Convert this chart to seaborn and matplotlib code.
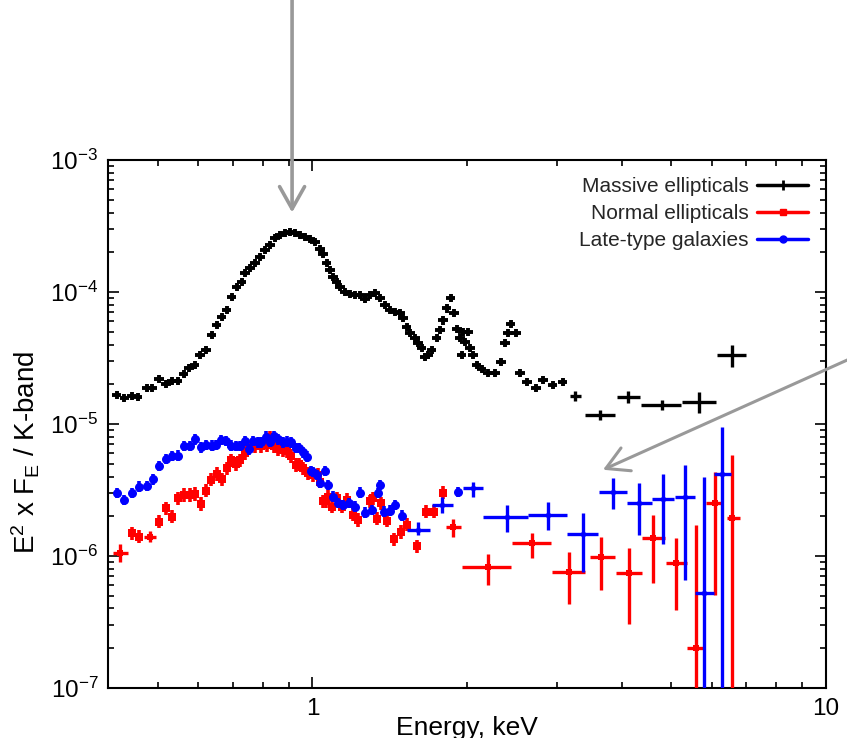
import matplotlib
matplotlib.use("Agg")
import numpy as np
import pandas as pd
import matplotlib.pyplot as plt
import seaborn as sns
from matplotlib.lines import Line2D
from matplotlib.ticker import LogLocator, NullFormatter, LogFormatterSciNotation

# ---------------- data (energy in keV, E^2 F_E / K-band) ----------------
massive_E = [0.416, 0.430, 0.445, 0.457, 0.476, 0.487, 0.503, 0.519, 0.532, 0.547,
             0.562, 0.575, 0.590, 0.604, 0.621, 0.637, 0.651, 0.666, 0.681, 0.696,
             0.712, 0.728, 0.739, 0.756, 0.773, 0.791, 0.809, 0.827, 0.846, 0.865,
             0.884, 0.905, 0.925, 0.946, 0.967, 0.989, 1.012, 1.035, 1.049, 1.066,
             1.082, 1.097, 1.115, 1.132, 1.157, 1.184, 1.210, 1.238, 1.266, 1.295,
             1.324, 1.354, 1.385, 1.416, 1.448, 1.481, 1.501, 1.526, 1.549, 1.584,
             1.606, 1.632, 1.657, 1.679, 1.707, 1.746, 1.772, 1.796, 1.826, 1.859,
             1.887, 1.912, 1.938, 1.953, 1.961, 1.982, 2.009, 2.027, 2.054, 2.089,
             2.136, 2.197, 2.267, 2.329, 2.371, 2.403, 2.433, 2.491, 2.536, 2.617,
             2.725, 2.812, 2.937, 3.071]
massive_F = [1.66e-5, 1.57e-5, 1.63e-5, 1.60e-5, 1.87e-5, 1.87e-5, 2.19e-5, 2.01e-5, 2.12e-5, 2.12e-5,
             2.39e-5, 2.66e-5, 2.80e-5, 3.33e-5, 3.64e-5, 4.72e-5, 5.62e-5, 6.47e-5, 7.31e-5, 9.17e-5,
             1.09e-4, 1.19e-4, 1.39e-4, 1.52e-4, 1.66e-4, 1.84e-4, 2.08e-4, 2.27e-4, 2.57e-4, 2.70e-4,
             2.80e-4, 2.85e-4, 2.80e-4, 2.70e-4, 2.61e-4, 2.52e-4, 2.39e-4, 2.10e-4, 1.94e-4, 1.66e-4,
             1.47e-4, 1.30e-4, 1.19e-4, 1.09e-4, 1.00e-4, 9.66e-5, 9.49e-5, 9.49e-5, 8.90e-5, 9.50e-5,
             9.80e-5, 9.00e-5, 8.00e-5, 7.30e-5, 7.05e-5, 6.93e-5, 6.35e-5, 5.43e-5, 4.89e-5, 4.48e-5,
             4.11e-5, 3.77e-5, 3.22e-5, 3.33e-5, 3.64e-5, 4.48e-5, 5.15e-5, 6.10e-5, 7.50e-5, 9.00e-5,
             6.90e-5, 5.25e-5, 4.48e-5, 3.33e-5, 4.97e-5, 4.18e-5, 4.97e-5, 3.77e-5, 3.33e-5, 2.80e-5,
             2.61e-5, 2.43e-5, 2.43e-5, 2.95e-5, 4.11e-5, 4.89e-5, 5.72e-5, 4.89e-5, 2.43e-5, 2.08e-5,
             1.87e-5, 2.16e-5, 1.97e-5, 2.08e-5]
# wide high-energy bins
massive_bin_E = [3.245, 3.631, 4.117, 4.795, 5.657, 6.561]
massive_bin_Elo = [3.17, 3.394, 3.919, 4.364, 5.245, 6.136]
massive_bin_Ehi = [3.33, 3.884, 4.345, 5.222, 6.108, 6.986]
massive_bin_F = [1.63e-5, 1.17e-5, 1.60e-5, 1.39e-5, 1.47e-5, 3.33e-5]
massive_bin_Flo = [1.50e-5, 1.08e-5, 1.43e-5, 1.27e-5, 1.21e-5, 2.70e-5]
massive_bin_Fhi = [1.77e-5, 1.27e-5, 1.79e-5, 1.52e-5, 1.75e-5, 3.97e-5]

normal_E = [0.445, 0.460, 0.503, 0.518, 0.534, 0.548, 0.563, 0.578, 0.590, 0.607,
            0.621, 0.635, 0.651, 0.666, 0.681, 0.694, 0.710, 0.723, 0.739, 0.753,
            0.773, 0.794, 0.815, 0.827, 0.842, 0.858, 0.875, 0.891, 0.908, 0.928,
            0.943, 0.960, 0.982, 1.004, 1.027, 1.035, 1.050, 1.063, 1.072, 1.090,
            1.115, 1.140, 1.169, 1.201, 1.228, 1.295, 1.314, 1.334, 1.358, 1.399,
            1.442, 1.485, 1.530, 1.596, 1.664, 1.725, 1.793]
normal_F = [1.49e-6, 1.40e-6, 1.82e-6, 2.30e-6, 1.99e-6, 2.74e-6, 2.90e-6, 2.90e-6, 2.95e-6, 2.48e-6,
            3.13e-6, 3.77e-6, 4.18e-6, 3.82e-6, 4.62e-6, 5.30e-6, 4.98e-6, 5.30e-6, 5.99e-6, 6.66e-6,
            6.81e-6, 6.81e-6, 6.94e-6, 7.94e-6, 6.81e-6, 6.43e-6, 6.36e-6, 6.24e-6, 5.72e-6, 4.89e-6,
            4.95e-6, 4.62e-6, 4.23e-6, 4.11e-6, 4.11e-6, 3.65e-6, 2.59e-6, 2.59e-6, 2.80e-6, 2.37e-6,
            2.74e-6, 2.37e-6, 2.66e-6, 2.05e-6, 1.87e-6, 2.59e-6, 2.74e-6, 1.92e-6, 2.51e-6, 1.85e-6,
            1.34e-6, 1.52e-6, 1.72e-6, 1.18e-6, 2.16e-6, 2.16e-6, 3.02e-6]
normal_bin_E = [0.422, 0.483, 1.881, 2.194, 2.673, 3.164, 3.647, 4.135, 4.610, 5.105, 5.583, 6.081, 6.571]
normal_bin_Elo = [0.4095, 0.471, 1.820, 1.953, 2.443, 2.924, 3.471, 3.901, 4.389, 4.881, 5.356, 5.840, 6.425]
normal_bin_Ehi = [0.437, 0.495, 1.944, 2.433, 2.911, 3.394, 3.884, 4.377, 4.859, 5.356, 5.769, 6.294, 6.802]
normal_bin_F = [1.06e-6, 1.40e-6, 1.65e-6, 8.30e-7, 1.25e-6, 7.60e-7, 9.89e-7, 7.40e-7, 1.36e-6, 8.81e-7, 2.00e-7, 2.51e-6, 1.95e-6]
normal_bin_Flo = [9.0e-7, 1.28e-6, 1.39e-6, 6.03e-7, 9.6e-7, 4.3e-7, 5.52e-7, 3.05e-7, 6.26e-7, 3.89e-7, 1e-8, 5.07e-7, 1e-8]
normal_bin_Fhi = [1.24e-6, 1.55e-6, 1.92e-6, 1.04e-6, 1.50e-6, 1.08e-6, 1.40e-6, 1.15e-6, 2.05e-6, 1.36e-6, 1.72e-6, 4.36e-6, 5.82e-6]

late_E = [0.416, 0.430, 0.445, 0.460, 0.476, 0.490, 0.503, 0.518, 0.534, 0.547,
          0.562, 0.578, 0.590, 0.607, 0.622, 0.637, 0.649, 0.665, 0.678, 0.693,
          0.710, 0.723, 0.739, 0.753, 0.767, 0.782, 0.796, 0.812, 0.827, 0.842,
          0.858, 0.876, 0.894, 0.909, 0.928, 0.943, 0.960, 0.975, 0.995, 1.004,
          1.020, 1.035, 1.058, 1.072, 1.097, 1.122, 1.147, 1.178, 1.210, 1.238,
          1.266, 1.305, 1.344, 1.354, 1.379, 1.416, 1.448, 1.492, 1.918]
late_F = [3.00e-6, 2.66e-6, 3.00e-6, 3.35e-6, 3.40e-6, 3.80e-6, 4.81e-6, 5.43e-6, 5.72e-6, 5.75e-6,
          6.81e-6, 6.81e-6, 7.63e-6, 6.66e-6, 6.94e-6, 6.87e-6, 6.94e-6, 7.57e-6, 7.44e-6, 6.87e-6,
          6.81e-6, 6.81e-6, 7.44e-6, 6.43e-6, 7.44e-6, 7.27e-6, 7.27e-6, 8.00e-6, 7.35e-6, 8.11e-6,
          7.63e-6, 7.27e-6, 7.35e-6, 7.27e-6, 6.56e-6, 6.56e-6, 6.10e-6, 5.65e-6, 4.40e-6, 4.34e-6,
          4.11e-6, 3.57e-6, 4.40e-6, 3.45e-6, 2.82e-6, 2.52e-6, 2.43e-6, 2.52e-6, 2.37e-6, 3.02e-6,
          2.13e-6, 2.23e-6, 3.00e-6, 3.45e-6, 2.17e-6, 2.21e-6, 2.43e-6, 2.02e-6, 3.05e-6]
late_bin_E = [1.608, 1.785, 2.057, 2.389, 2.880, 3.369, 3.843, 4.331, 4.822, 5.316, 5.795, 6.283]
late_bin_Elo = [1.526, 1.707, 1.967, 2.151, 2.633, 3.127, 3.619, 4.104, 4.590, 5.082, 5.558, 6.053]
late_bin_Ehi = [1.694, 1.876, 2.151, 2.633, 3.127, 3.603, 4.093, 4.578, 5.066, 5.558, 6.053, 6.524]
late_bin_F = [1.57e-6, 2.43e-6, 3.27e-6, 1.99e-6, 2.05e-6, 1.47e-6, 3.05e-6, 2.54e-6, 2.70e-6, 2.81e-6, 5.21e-7, 4.18e-6]
late_bin_Flo = [1.45e-6, 2.10e-6, 2.80e-6, 1.53e-6, 1.57e-6, 7.6e-7, 2.26e-6, 1.44e-6, 1.23e-6, 6.58e-7, 1e-8, 1e-8]
late_bin_Fhi = [1.80e-6, 2.80e-6, 3.65e-6, 2.43e-6, 2.55e-6, 2.10e-6, 3.88e-6, 3.59e-6, 4.21e-6, 4.89e-6, 3.95e-6, 9.54e-6]

series_labels = ["Massive ellipticals", "Normal ellipticals", "Late-type galaxies"]

# annotation arrow targets (data coords)
arrow1_tip = (0.913, 4.0e-4)
arrow1_tail = (0.913, 1.7e-2)
arrow2_tip = (3.68, 4.5e-6)
arrow2_tail = (11.3, 3.2e-5)

# ---------------- style ----------------
sns.set_theme(style="ticks")
plt.rcParams["font.family"] = ["Liberation Sans", "DejaVu Sans"]
plt.rcParams["mathtext.fontset"] = "custom"
plt.rcParams["mathtext.rm"] = "Liberation Sans"
plt.rcParams["mathtext.it"] = "Liberation Sans:italic"
plt.rcParams["mathtext.bf"] = "Liberation Sans:bold"

fig = plt.figure(figsize=(8.47, 7.38), dpi=100)
ax = fig.add_axes([0.1275, 0.0678, 0.8477, 0.7154])
ax.set_xscale("log")
ax.set_yscale("log")
ax.set_xlim(0.4, 10)
ax.set_ylim(1e-7, 1e-3)


def draw_fine(E, F, color, marker, s, xdex, ydex, lw, z):
    E = np.asarray(E, float)
    F = np.asarray(F, float)
    xerr = [E - E / 10 ** xdex, E * 10 ** xdex - E]
    yerr = [F - F / 10 ** ydex, F * 10 ** ydex - F]
    ax.errorbar(E, F, xerr=xerr, yerr=yerr, fmt="none", ecolor=color,
                elinewidth=lw, capsize=0, zorder=z)
    df = pd.DataFrame({"E": E, "F": F})
    sns.scatterplot(data=df, x="E", y="F", color=color, marker=marker, s=s,
                    linewidth=0, ax=ax, zorder=z + 0.1, legend=False)


def draw_bins(E, Elo, Ehi, F, Flo, Fhi, color, marker, s, z):
    E = np.asarray(E, float)
    F = np.asarray(F, float)
    xerr = [E - np.asarray(Elo), np.asarray(Ehi) - E]
    yerr = [F - np.asarray(Flo), np.asarray(Fhi) - F]
    ax.errorbar(E, F, xerr=xerr, yerr=yerr, fmt="none", ecolor=color,
                elinewidth=2.4, capsize=0, zorder=z)
    if marker is not None:
        df = pd.DataFrame({"E": E, "F": F})
        sns.scatterplot(data=df, x="E", y="F", color=color, marker=marker, s=s,
                        linewidth=0, ax=ax, zorder=z + 0.1, legend=False)


draw_fine(massive_E, massive_F, "black", "o", 10, 0.009, 0.032, 2.8, 3)
draw_bins(massive_bin_E, massive_bin_Elo, massive_bin_Ehi, massive_bin_F,
          massive_bin_Flo, massive_bin_Fhi, "black", None, 0, 3)
draw_fine(normal_E, normal_F, "red", "s", 34, 0.006, 0.05, 2.6, 4)
draw_bins(normal_bin_E, normal_bin_Elo, normal_bin_Ehi, normal_bin_F,
          normal_bin_Flo, normal_bin_Fhi, "red", "s", 16, 4)
draw_fine(late_E, late_F, "blue", "o", 42, 0.006, 0.04, 2.6, 5)
draw_bins(late_bin_E, late_bin_Elo, late_bin_Ehi, late_bin_F,
          late_bin_Flo, late_bin_Fhi, "blue", "o", 16, 5)

ax.set_xlim(0.4, 10)
ax.set_ylim(1e-7, 1e-3)

# ticks
ax.set_xticks([1, 10], ["1", "10"])
ax.xaxis.set_minor_locator(LogLocator(base=10, subs=np.arange(2, 10)))
ax.xaxis.set_minor_formatter(NullFormatter())
ax.yaxis.set_major_locator(LogLocator(base=10, numticks=10))
ax.yaxis.set_major_formatter(LogFormatterSciNotation())
ax.yaxis.set_minor_locator(LogLocator(base=10, subs=np.arange(2, 10), numticks=20))
ax.yaxis.set_minor_formatter(NullFormatter())
ax.tick_params(which="both", direction="in", top=True, right=True, color="black",
               labelcolor="black", width=1.2)
ax.tick_params(which="major", length=8, labelsize=17.5, pad=7)
ax.tick_params(which="minor", length=4)
for sp in ax.spines.values():
    sp.set_color("black")
    sp.set_linewidth(1.5)

ax.set_xlabel("Energy, keV", fontsize=19, labelpad=-3, color="black")
ax.set_ylabel(r"E$^{2}$ x F$_{\rm E}$ / K-band", fontsize=20, color="black")
ax.yaxis.set_label_coords(-0.092, 0.447)

# legend
handles = [
    Line2D([0], [0], color="black", lw=2.5, marker="+", ms=7, mew=2),
    Line2D([0], [0], color="red", lw=2.5, marker="s", ms=5),
    Line2D([0], [0], color="blue", lw=2.5, marker="o", ms=5),
]
ax.legend(handles, series_labels, loc="upper right", bbox_to_anchor=(0.975, 0.968),
          frameon=False, markerfirst=False, fontsize=15, handlelength=2.45,
          handletextpad=0.4, labelspacing=0.39, borderpad=0, borderaxespad=0)

# arrows
arrow_style = "->,head_length=0.8,head_width=0.45"
ax.annotate("", xy=arrow1_tip, xytext=arrow1_tail, annotation_clip=False,
            arrowprops=dict(arrowstyle=arrow_style, color="#999999", lw=2.6,
                            mutation_scale=20, shrinkA=0, shrinkB=0))
ax.annotate("", xy=arrow2_tip, xytext=arrow2_tail, annotation_clip=False,
            arrowprops=dict(arrowstyle=arrow_style, color="#999999", lw=2.2,
                            mutation_scale=20, shrinkA=0, shrinkB=0))

fig.savefig("out.png", dpi=100)
